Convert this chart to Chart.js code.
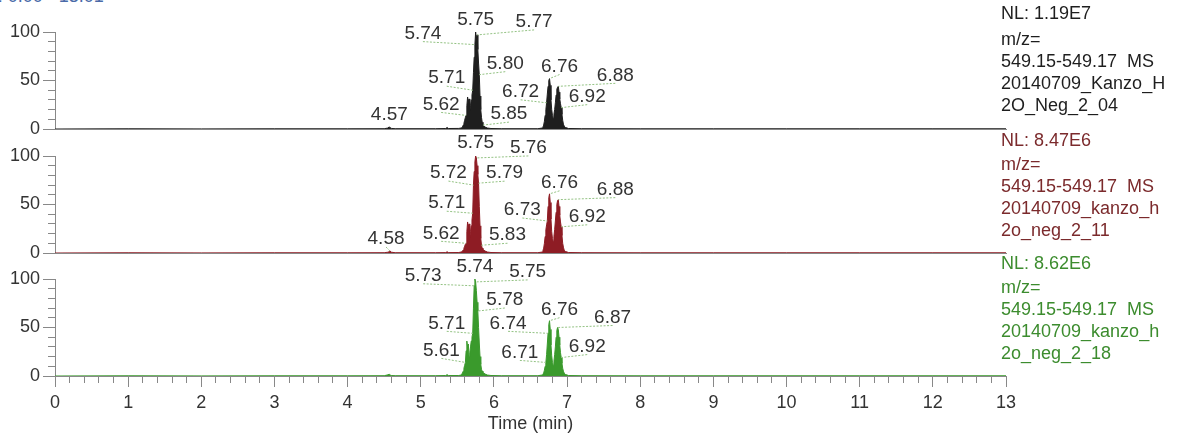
<!DOCTYPE html>
<html>
<head>
<meta charset="utf-8">
<script src="https://cdn.jsdelivr.net/npm/chart.js@4.4.1/dist/chart.umd.min.js"></script>
<style>
  body { margin: 0; background: #fff; }
  #wrap { position: relative; width: 1192px; height: 436px; overflow: hidden; font-family: "Liberation Sans", Arial, sans-serif; }
  #wrap canvas { position: absolute; left: 0; top: 0; }
  .info { position: absolute; left: 1001px; font-size: 18px; line-height: 22px; white-space: pre; }
  .info div:first-child { margin-bottom: 2px; }
  #info1 div:first-child { margin-bottom: 4px; }
  #rt { position: absolute; left: -24px; top: -14px; font-size: 18px; color: #4a6aa8; white-space: nowrap; }
</style>
</head>
<body>
<div id="wrap">
  <div id="rt">RT: 0.00 - 13.01</div>
  <canvas id="c1" width="1192" height="436"></canvas>
  <canvas id="c2" width="1192" height="436"></canvas>
  <canvas id="c3" width="1192" height="436"></canvas>
  <div class="info" id="info1" style="top:2px;color:#1e1e1e"></div>
  <div class="info" id="info2" style="top:129px;color:#7b2a2c"></div>
  <div class="info" id="info3" style="top:252px;color:#3c8c2e"></div>
</div>
<script>
// retention time (min), shared by all three traces
var times = [0, 1, 2, 3, 4,
  4.5, 4.55, 4.57, 4.58, 4.6, 4.65,
  5.2, 5.34, 5.36, 5.38, 5.52,
  5.55, 5.56, 5.57, 5.58, 5.59, 5.6, 5.61, 5.62, 5.63, 5.64, 5.65, 5.66, 5.67, 5.68, 5.69, 5.7,
  5.71, 5.72, 5.73, 5.74, 5.75, 5.76, 5.77, 5.78, 5.79, 5.8, 5.81, 5.82, 5.83, 5.84, 5.85, 5.86,
  5.88, 5.91, 5.96, 6.1, 6.6,
  6.66, 6.67, 6.68, 6.69, 6.7, 6.71, 6.72, 6.73, 6.74, 6.75, 6.76, 6.77, 6.78, 6.79, 6.8, 6.81,
  6.82, 6.83, 6.84, 6.85, 6.86, 6.87, 6.88, 6.89, 6.9, 6.91, 6.92, 6.93, 6.94, 6.95, 6.96,
  6.98, 7.02, 7.2,
  8, 9, 10, 11, 12, 13];

// relative abundance (%)
var abund1 = [0, 0.2, 0.1, 0.2, 0.2,
  0.3, 1.0, 2.2, 1.4, 0.6, 0.3,
  0.3, 0.5, 1.5, 0.5, 0.6,
  1, 1.5, 2, 4, 6, 9, 12, 14, 24, 33, 28, 31, 19, 24, 30, 35,
  40, 58, 74, 87, 100, 93, 97, 82, 68, 56, 34, 20, 12, 7, 4, 3,
  2, 1, 0.5, 0.3, 0.3,
  1, 2, 4, 8, 14, 20, 27, 36, 44, 50, 52, 45, 30, 20, 14, 11,
  15, 20, 27, 35, 41, 43, 44, 38, 31, 26, 22, 15, 9, 5, 3,
  1.5, 0.5, 0.3,
  0.2, 0.2, 0.2, 0.2, 0.2, 0.2];

var abund2 = [0, 0.2, 0.1, 0.2, 0.2,
  0.3, 0.8, 1.4, 2.0, 0.8, 0.3,
  0.3, 0.4, 1.2, 0.4, 0.5,
  1, 1.5, 2, 3, 5, 7, 9, 10, 22, 32, 27, 30, 16, 22, 28, 34,
  41, 70, 84, 94, 100, 98, 90, 81, 72, 48, 28, 15, 8, 5, 4, 3,
  2, 1, 0.5, 0.3, 0.3,
  1, 2.5, 5, 10, 17, 24, 29, 33, 48, 57, 61, 52, 35, 22, 15, 12,
  17, 24, 33, 42, 50, 54, 55, 48, 39, 32, 27, 18, 10, 6, 3,
  1.5, 0.5, 0.3,
  0.2, 0.2, 0.2, 0.2, 0.2, 0.2];

var abund3 = [0, 0.2, 0.1, 0.2, 0.2,
  0.3, 1.2, 1.8, 1.0, 0.5, 0.3,
  0.3, 0.5, 1.4, 0.5, 0.5,
  1, 2, 3, 5, 8, 11, 14, 26, 36, 30, 33, 20, 24, 30, 36, 40,
  44, 70, 93, 100, 97, 88, 76, 67, 50, 34, 20, 12, 7, 5, 4, 3,
  2, 1, 0.5, 0.3, 0.3,
  1, 2, 3, 6, 10, 14, 22, 33, 44, 53, 57, 48, 32, 21, 14, 11,
  15, 22, 30, 40, 47, 50, 48, 40, 32, 24, 19, 13, 8, 5, 3,
  1.5, 0.5, 0.3,
  0.2, 0.2, 0.2, 0.2, 0.2, 0.2];

// labelled peak times
var peaks1 = [4.57, 5.62, 5.71, 5.74, 5.75, 5.77, 5.80, 5.85, 6.72, 6.76, 6.88, 6.92];
var peaks2 = [4.58, 5.62, 5.71, 5.72, 5.75, 5.76, 5.79, 5.83, 6.73, 6.76, 6.88, 6.92];
var peaks3 = [5.61, 5.71, 5.73, 5.74, 5.75, 5.78, 6.71, 6.74, 6.76, 6.87, 6.92];

var info1 = ["NL: 1.19E7", "m/z=", "549.15-549.17  MS", "20140709_Kanzo_H", "2O_Neg_2_04"];
var info2 = ["NL: 8.47E6", "m/z=", "549.15-549.17  MS", "20140709_kanzo_h", "2o_neg_2_11"];
var info3 = ["NL: 8.62E6", "m/z=", "549.15-549.17  MS", "20140709_kanzo_h", "2o_neg_2_18"];

// label placement (px offset of label centre from its peak point)
var offs1 = [[0,-12],[-25,-11],[-26,-12],[-52,-11],[0,-12],[57,-13],[26,-11],[26,-11],[-26,-11],[10,-12],[57,-11],[26,-11]];
var offs2 = [[-4,-12],[-25,-10],[-26,-10],[-25,-12],[0,-13],[52,-10],[26,-10],[26,-10],[-25,-11],[10,-11],[57,-10],[26,-10]];
var offs3 = [[-24,-12],[-26,-10],[-51,-10],[0,-12],[52,-10],[27,-11],[-26,-10],[-40,-10],[10,-11],[55,-10],[26,-11]];

Chart.defaults.font.family = '"Liberation Sans", Arial, sans-serif';
Chart.defaults.color = '#333';

var axisGray = '#888';

function isWhole(v) { return Math.abs(v - Math.round(v)) < 1e-6; }

function peakLabelPlugin(peaks, offs, values) {
  return {
    id: 'peakLabels',
    afterDatasetsDraw: function (chart) {
      var ctx = chart.ctx, xs = chart.scales.x, ys = chart.scales.y;
      ctx.save();
      ctx.font = '19px "Liberation Sans", Arial, sans-serif';
      ctx.textAlign = 'center';
      ctx.textBaseline = 'middle';
      peaks.forEach(function (t, i) {
        var idx = times.indexOf(t);
        var px = xs.getPixelForValue(t);
        var py = ys.getPixelForValue(values[idx]);
        var tx = px + offs[i][0], ty = py + offs[i][1];
        if (Math.abs(offs[i][0]) > 2) {
          ctx.strokeStyle = '#93c283';
          ctx.lineWidth = 1;
          ctx.setLineDash([2, 1.5]);
          ctx.beginPath();
          ctx.moveTo(tx, ty + 8);
          ctx.lineTo(px, py);
          ctx.stroke();
        }
        ctx.fillStyle = '#333';
        ctx.fillText(t.toFixed(2), tx, ty);
      });
      ctx.restore();
    }
  };
}

function makeTrace(id, values, color, peaks, offs, padTop, padBottom, showTime) {
  var points = times.map(function (t, i) { return {x: t, y: values[i]}; });

  var xAxis = {
    type: 'linear',
    min: 0,
    max: 13,
    border: { display: true, color: axisGray, width: 1 },
    afterFit: function (scale) { scale.height = showTime ? 60 : 0; }
  };
  if (showTime) {
    xAxis.ticks = {
      stepSize: 0.2,
      autoSkip: false,
      maxRotation: 0,
      padding: 5,
      color: '#333',
      font: { size: 18 },
      callback: function (value) { return isWhole(value) ? Math.round(value) : ''; }
    };
    xAxis.grid = {
      drawOnChartArea: false,
      drawTicks: true,
      tickLength: 11,
      tickColor: axisGray,
      tickBorderDash: function (c) {
        return (c.tick && isWhole(c.tick.value)) ? [] : [6, 20];
      }
    };
    xAxis.title = {
      display: true,
      text: 'Time (min)',
      color: '#333',
      font: { size: 18 },
      padding: { top: 0, bottom: 1 }
    };
  } else {
    xAxis.ticks = { display: false };
    xAxis.grid = { display: false };
  }

  new Chart(document.getElementById(id), {
    type: 'line',
    data: {
      datasets: [{
        data: points,
        borderColor: color,
        backgroundColor: color,
        borderWidth: 1,
        pointRadius: 0,
        tension: 0,
        fill: 'origin'
      }]
    },
    options: {
      responsive: false,
      animation: false,
      events: [],
      layout: {
        padding: { left: 0, right: 186, top: padTop, bottom: padBottom }
      },
      scales: {
        x: xAxis,
        y: {
          min: 0,
          max: 100,
          border: { display: true, color: axisGray, width: 1 },
          afterFit: function (scale) { scale.width = 55; },
          ticks: {
            stepSize: 10,
            autoSkip: false,
            padding: 3,
            color: '#333',
            font: { size: 18 },
            callback: function (value) { return value % 50 === 0 ? value : ''; }
          },
          grid: {
            drawOnChartArea: false,
            drawTicks: true,
            tickLength: 12,
            tickColor: axisGray,
            tickBorderDash: function (c) {
              return (c.tick && c.tick.value % 50 === 0) ? [] : [0, 5, 7, 0];
            }
          }
        }
      },
      plugins: {
        legend: { display: false },
        tooltip: { enabled: false }
      }
    },
    plugins: [peakLabelPlugin(peaks, offs, values)]
  });
}

function fillInfo(id, lines) {
  var box = document.getElementById(id);
  lines.forEach(function (line) {
    var row = document.createElement('div');
    row.textContent = line;
    box.appendChild(row);
  });
}

makeTrace('c1', abund1, '#1e1e1e', peaks1, offs1, 32, 307, false);
makeTrace('c2', abund2, '#8e1c24', peaks2, offs2, 156, 183, false);
makeTrace('c3', abund3, '#3a9a2c', peaks3, offs3, 279, 0, true);

fillInfo('info1', info1);
fillInfo('info2', info2);
fillInfo('info3', info3);
</script>
</body>
</html>
